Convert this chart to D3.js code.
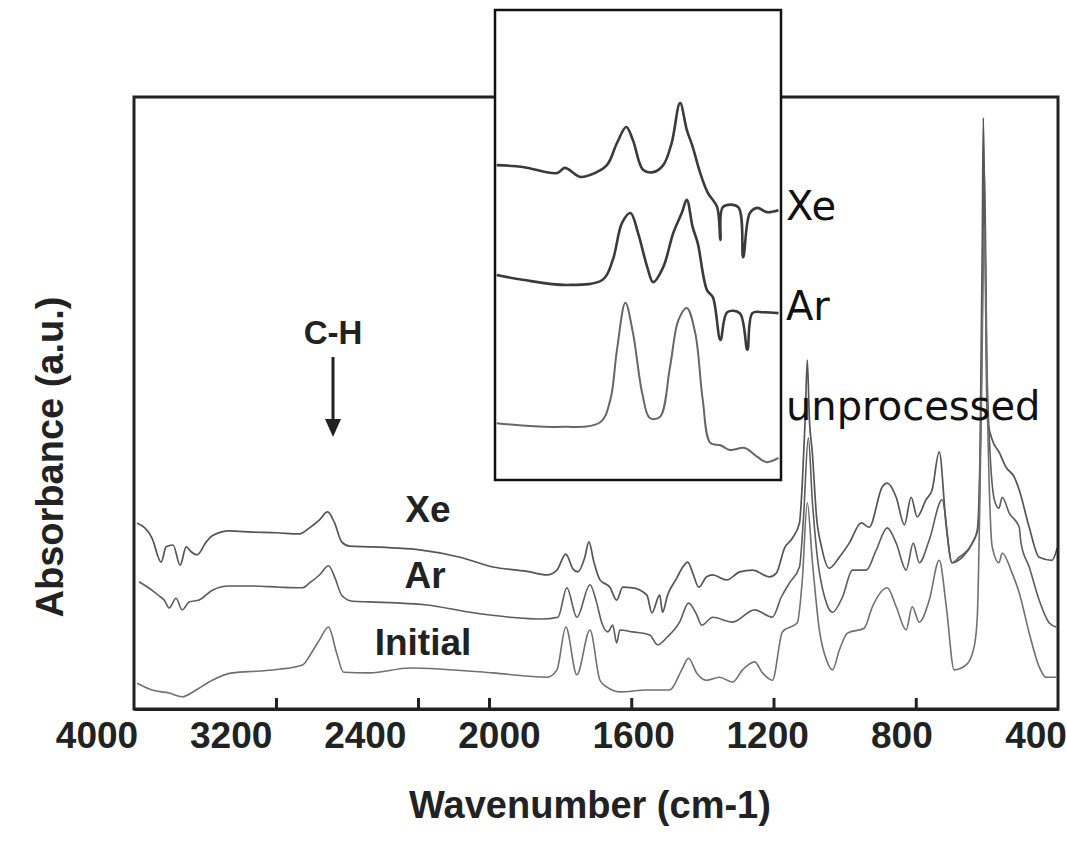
<!DOCTYPE html>
<html>
<head>
<meta charset="utf-8">
<script src="https://cdn.jsdelivr.net/npm/d3@7"></script>
<style>
  html, body { margin: 0; padding: 0; background: #fff; }
  svg { display: block; }
</style>
</head>
<body>
<svg width="1067" height="848"></svg>
<script>
// wavenumber ticks on the axis, and the printed labels (spaced evenly in the figure)
var tickValues = [3200, 2400, 2000, 1600, 1200, 800];
var tickLabels = ["4000", "3200", "2400", "2000", "1600", "1200", "800", "400"];

// [wavenumber cm-1, absorbance a.u.]
var xeSpectrum = [
  [3983,30.4],[3898,27.9],[3847,24.0],[3819,26.5],[3780,26.8],[3740,23.5],[3706,26.5],[3678,25.7],
  [3644,25.2],[3593,27.3],[3559,28.3],[3463,29.1],[3333,28.9],[3198,28.8],[3068,28.6],[3011,29.6],
  [2955,30.9],[2910,32.2],[2870,30.4],[2830,27.3],[2785,26.6],[2672,26.5],[2520,26.3],[2390,26.0],
  [2164,24.8],[1989,23.2],[1893,22.5],[1837,21.9],[1809,22.7],[1784,25.3],[1764,22.9],[1750,22.4],
  [1731,24.7],[1719,27.3],[1705,24.0],[1688,21.1],[1660,19.9],[1641,17.8],[1624,19.9],[1596,19.8],
  [1556,18.6],[1542,15.7],[1520,18.6],[1512,15.8],[1498,18.6],[1472,21.4],[1455,23.2],[1441,24.0],
  [1427,22.2],[1410,19.9],[1388,21.6],[1371,21.9],[1332,21.1],[1295,22.4],[1259,22.7],[1211,21.6],
  [1192,22.2],[1169,26.3],[1147,27.9],[1127,30.4],[1119,36.9],[1111,47.2],[1105,57.0],[1099,47.2],
  [1091,42.0],[1079,31.4],[1065,26.5],[1043,23.0],[1015,24.8],[987,27.1],[953,30.4],[931,29.7],
  [894,36.3],[880,36.9],[855,34.6],[832,30.1],[813,34.6],[796,31.4],[771,34.2],[754,35.8],
  [734,42.0],[714,29.7],[698,23.9],[669,24.8],[641,27.1],[627,29.2],[619,42.3],[613,75.0],
  [610,96.6],[605,75.0],[599,47.7],[585,44.0],[566,42.0],[546,39.5],[523,37.9],[509,35.8],
  [481,29.7],[453,24.8],[417,24.3],[402,26.3]
];
var arSpectrum = [
  [3972,20.8],[3898,19.4],[3859,18.5],[3830,17.8],[3802,16.5],[3763,18.1],[3729,16.2],[3689,17.5],
  [3633,17.8],[3559,19.4],[3463,20.1],[3333,20.1],[3181,19.9],[3051,19.8],[3011,20.6],[2955,21.9],
  [2904,23.4],[2870,21.6],[2830,18.6],[2768,17.6],[2672,17.5],[2350,17.0],[2107,15.8],[1941,15.0],
  [1851,14.7],[1806,15.0],[1781,19.8],[1753,15.0],[1716,20.3],[1697,17.3],[1683,14.1],[1666,12.6],
  [1652,13.7],[1641,10.8],[1632,12.9],[1596,12.6],[1548,12.1],[1526,10.5],[1498,11.8],[1464,14.2],
  [1439,17.3],[1416,15.4],[1402,13.7],[1371,15.0],[1315,14.2],[1253,16.2],[1203,15.0],[1178,18.3],
  [1155,20.6],[1127,23.2],[1116,30.9],[1102,44.3],[1091,34.2],[1079,26.0],[1051,17.3],[1034,15.8],
  [1006,18.3],[978,22.7],[939,22.7],[911,26.0],[880,29.6],[855,27.1],[827,22.7],[807,27.1],
  [790,23.9],[762,27.6],[726,34.2],[698,23.9],[678,24.8],[641,27.1],[624,29.7],[616,50.5],
  [607,88.4],[599,53.8],[579,34.2],[566,32.8],[557,34.6],[537,32.0],[509,29.7],[504,27.1],
  [481,23.2],[453,17.8],[425,14.1],[405,13.4]
];
var initialSpectrum = [
  [3983,4.2],[3898,3.1],[3802,2.6],[3729,2.0],[3650,3.1],[3559,4.7],[3446,5.9],[3294,6.2],
  [3181,6.5],[3051,7.2],[3000,9.2],[2955,11.3],[2904,13.4],[2859,9.2],[2819,6.0],[2672,5.9],
  [2446,6.7],[2260,6.5],[1989,5.9],[1837,5.2],[1809,6.4],[1784,13.4],[1753,5.6],[1716,12.9],
  [1688,4.7],[1669,3.6],[1632,2.8],[1556,3.1],[1492,3.1],[1458,6.4],[1439,8.3],[1416,5.9],
  [1388,4.7],[1352,5.2],[1315,4.4],[1287,6.4],[1253,7.7],[1231,5.9],[1203,4.7],[1175,12.6],
  [1133,14.1],[1119,21.1],[1105,33.7],[1091,24.3],[1071,12.9],[1051,8.0],[1034,6.4],[1015,9.6],
  [992,12.4],[945,13.2],[922,16.7],[880,19.8],[855,16.7],[827,12.9],[810,16.7],[790,14.2],
  [762,17.8],[734,24.3],[714,16.7],[692,6.4],[658,7.2],[636,10.1],[627,15.0],[616,47.2],
  [607,79.1],[599,50.5],[585,26.5],[566,23.9],[557,25.5],[529,22.2],[509,19.0],[481,12.4],
  [453,6.9],[434,5.2],[405,5.2]
];

// inset: close-up of the 1940-1600 cm-1 region
var insetXe = [
  [1938,67.0],[1907,66.6],[1866,65.3],[1857,66.4],[1839,64.5],[1827,64.9],[1807,67.0],[1795,71.7],
  [1784,75.1],[1776,72.3],[1764,66.0],[1752,65.5],[1740,67.0],[1730,71.7],[1720,80.2],[1712,74.5],
  [1705,70.9],[1696,65.3],[1687,61.1],[1676,58.1],[1672,51.1],[1669,58.1],[1651,58.1],[1645,47.4],
  [1637,56.8],[1628,57.9],[1617,57.0],[1603,57.4]
];
var insetAr = [
  [1938,43.6],[1907,42.6],[1854,41.5],[1812,42.6],[1800,46.8],[1789,54.7],[1779,56.8],[1770,52.6],
  [1759,45.3],[1752,42.1],[1740,45.3],[1728,52.6],[1718,56.8],[1712,59.6],[1705,53.8],[1699,50.4],
  [1688,40.4],[1681,38.9],[1672,29.8],[1664,35.7],[1649,35.5],[1640,27.7],[1634,35.5],[1621,35.7],
  [1603,35.5]
];
var insetUnprocessed = [
  [1938,12.1],[1866,11.3],[1815,12.3],[1803,17.0],[1795,27.7],[1785,37.7],[1776,31.3],[1765,18.5],
  [1756,13.2],[1744,13.4],[1732,24.0],[1722,34.0],[1712,36.6],[1702,31.3],[1693,17.0],[1684,7.9],
  [1672,7.4],[1661,6.4],[1643,6.8],[1628,4.9],[1617,3.8],[1603,4.7]
];

(function () {
  var svg = d3.select("svg");
  var boldFont = "'Liberation Sans', Arial, sans-serif";

  var plotLeft = 134, plotRight = 1058, plotTop = 97, plotBottom = 709;

  // wavenumber axis is compressed above 2000 cm-1
  var x = d3.scaleLinear().domain([4000, 2000, 400]).range([plotLeft, 489, plotRight]);
  var y = d3.scaleLinear().domain([0, 100]).range([plotBottom, plotTop]);
  var labelX = d3.scalePoint().domain(tickLabels).range([97, 1036]);

  var line = d3.line()
    .curve(d3.curveMonotoneX)
    .x(function (d) { return x(d[0]); })
    .y(function (d) { return y(d[1]); });

  var traces = [
    { data: xeSpectrum, color: "#555", width: 1.7 },
    { data: arSpectrum, color: "#5c5c5c", width: 1.6 },
    { data: initialSpectrum, color: "#707070", width: 1.6 }
  ];

  svg.append("g")
    .selectAll("path")
    .data(traces)
    .enter().append("path")
      .attr("d", function (d) { return line(d.data); })
      .attr("fill", "none")
      .attr("stroke", function (d) { return d.color; })
      .attr("stroke-width", function (d) { return d.width; })
      .attr("stroke-linejoin", "round");

  // frame
  svg.append("rect")
    .attr("x", plotLeft).attr("y", plotTop)
    .attr("width", plotRight - plotLeft).attr("height", plotBottom - plotTop)
    .attr("fill", "none")
    .attr("stroke", "#222")
    .attr("stroke-width", 3);

  // inward tick marks
  var axis = svg.append("g")
    .attr("transform", "translate(0," + plotBottom + ")")
    .call(d3.axisTop(x).tickValues(tickValues).tickSize(11).tickSizeOuter(0).tickFormat(""));
  axis.select(".domain").attr("stroke", "#222").attr("stroke-width", 3);
  axis.selectAll(".tick line").attr("stroke", "#222").attr("stroke-width", 3);

  svg.append("g")
    .selectAll("text")
    .data(tickLabels)
    .enter().append("text")
      .attr("x", function (d) { return labelX(d); })
      .attr("y", 748)
      .attr("text-anchor", "middle")
      .attr("font-family", boldFont)
      .attr("font-weight", "bold")
      .attr("font-size", 37)
      .attr("fill", "#222")
      .text(function (d) { return d; });

  svg.append("text")
    .attr("x", 590).attr("y", 818)
    .attr("text-anchor", "middle")
    .attr("font-family", boldFont)
    .attr("font-weight", "bold")
    .attr("font-size", 38)
    .attr("fill", "#222")
    .text("Wavenumber (cm-1)");

  svg.append("text")
    .attr("transform", "translate(63,457) rotate(-90)")
    .attr("text-anchor", "middle")
    .attr("font-family", boldFont)
    .attr("font-weight", "bold")
    .attr("font-size", 38)
    .attr("fill", "#222")
    .text("Absorbance (a.u.)");

  // series names on the main plot
  var seriesNames = [
    { text: "Xe", x: 428, y: 522 },
    { text: "Ar", x: 425, y: 588 },
    { text: "Initial", x: 423, y: 655 }
  ];
  svg.append("g")
    .selectAll("text")
    .data(seriesNames)
    .enter().append("text")
      .attr("x", function (d) { return d.x; })
      .attr("y", function (d) { return d.y; })
      .attr("text-anchor", "middle")
      .attr("font-family", boldFont)
      .attr("font-weight", "bold")
      .attr("font-size", 37)
      .attr("fill", "#222")
      .text(function (d) { return d.text; });

  // C-H marker
  svg.append("text")
    .attr("x", 333).attr("y", 344)
    .attr("text-anchor", "middle")
    .attr("font-family", boldFont)
    .attr("font-weight", "bold")
    .attr("font-size", 33)
    .attr("fill", "#222")
    .text("C-H");
  svg.append("line")
    .attr("x1", 333).attr("y1", 357)
    .attr("x2", 333).attr("y2", 422)
    .attr("stroke", "#222").attr("stroke-width", 3);
  svg.append("path")
    .attr("d", "M325,419L341,419L333,437Z")
    .attr("fill", "#222");

  // inset
  var insetLeft = 495, insetRight = 781, insetTop = 10, insetBottom = 480;
  var ix = d3.scaleLinear().domain([1940, 1600]).range([insetLeft, insetRight]);
  var iy = d3.scaleLinear().domain([0, 100]).range([insetBottom, insetTop]);
  var insetLine = d3.line()
    .curve(d3.curveCatmullRom.alpha(0.5))
    .x(function (d) { return ix(d[0]); })
    .y(function (d) { return iy(d[1]); });

  svg.append("rect")
    .attr("x", insetLeft).attr("y", insetTop)
    .attr("width", insetRight - insetLeft).attr("height", insetBottom - insetTop)
    .attr("fill", "#fff")
    .attr("stroke", "#111")
    .attr("stroke-width", 2.5);

  svg.append("g")
    .selectAll("path")
    .data([insetXe, insetAr, insetUnprocessed])
    .enter().append("path")
      .attr("d", insetLine)
      .attr("fill", "none")
      .attr("stroke", function (d, i) { return i === 2 ? "#666" : "#3a3a3a"; })
      .attr("stroke-width", function (d, i) { return i === 2 ? 2 : 2.6; })
      .attr("stroke-linejoin", "round");

  var insetNames = [
    { text: "Xe", y: 220 },
    { text: "Ar", y: 320 },
    { text: "unprocessed", y: 420 }
  ];
  svg.append("g")
    .selectAll("text")
    .data(insetNames)
    .enter().append("text")
      .attr("x", 786)
      .attr("y", function (d) { return d.y; })
      .attr("font-family", "'DejaVu Sans', sans-serif")
      .attr("font-size", 40)
      .attr("fill", "#111")
      .text(function (d) { return d.text; });
})();
</script>
</body>
</html>
